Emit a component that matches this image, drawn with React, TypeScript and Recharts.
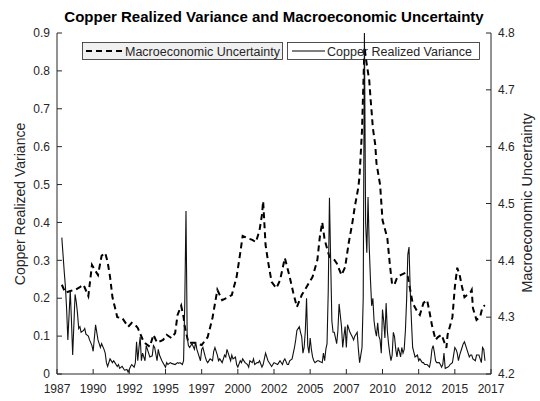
import React from 'react';
import { LineChart, Line, XAxis, YAxis, Customized } from 'recharts';

// months since Jan 1987 on the x axis, labels as printed on the figure
const xTickMonths = [0, 30, 60, 90, 120, 150, 180, 210, 240, 270, 300, 330, 360];
const xTickLabels = ['1987', '1990', '1992', '1995', '1997', '2000', '2002', '2005', '2007', '2010', '2012', '2015', '2017'];
const varianceTicks = [0, 0.1, 0.2, 0.3, 0.4, 0.5, 0.6, 0.7, 0.8, 0.9];
const uncertaintyTicks = [4.2, 4.3, 4.4, 4.5, 4.6, 4.7, 4.8];

// copper realized variance (solid)
const rvMonths = [
  4, 6, 7, 8, 9, 11, 12, 13, 15, 16, 17, 18, 19, 20, 22, 23, 24, 26, 27, 29, 30, 32, 33, 34, 36, 37, 39, 40,
  41, 42, 44, 46, 47, 48, 50, 51, 52, 54, 56, 58, 59, 61, 62, 64, 65, 66, 67, 68, 69, 70, 71, 73, 74, 75, 77,
  79, 80, 81, 83, 84, 85, 87, 90, 91, 92, 94, 95, 98, 100, 101, 102, 104, 105, 106, 107, 108, 109, 110, 112,
  114, 115, 116, 117, 119, 120, 121, 123, 124, 125, 127, 129, 130, 131, 133, 134, 135, 137, 139, 140, 141, 142,
  144, 145, 146, 148, 149, 150, 152, 153, 154, 156, 158, 159, 160, 162, 163, 164, 166, 167, 168, 170, 171, 173,
  174, 175, 177, 178, 180, 183, 184, 185, 187, 188, 189, 191, 192, 193, 195, 197, 198, 199, 201, 202, 203, 204,
  205, 206, 207, 208, 209, 210, 211, 212, 213, 214, 216, 217, 218, 220, 221, 222, 223, 224, 225, 226, 227, 228,
  229, 230, 232, 233, 234, 235, 236, 237, 238, 239, 240, 241, 243, 245, 246, 247, 249, 250, 251, 252, 253, 254,
  255, 256, 257, 258, 259, 260, 261, 262, 263, 264, 265, 266, 267, 268, 269, 270, 271, 272, 273, 274, 275, 276,
  277, 278, 279, 280, 281, 282, 283, 284, 285, 286, 287, 288, 289, 290, 291, 292, 293, 294, 295, 297, 299, 300,
  301, 303, 304, 305, 307, 309, 310, 311, 312, 313, 314, 315, 317, 318, 319, 320, 321, 322, 324, 325, 326, 328,
  329, 330, 331, 332, 333, 334, 336, 337, 338, 340, 342, 343, 344, 345, 347, 348, 350, 351, 352, 353, 354, 355,
];
const rvValues = [
  0.36, 0.27, 0.23, 0.17, 0.09, 0.22, 0.14, 0.05, 0.21, 0.19, 0.16, 0.12, 0.125, 0.11, 0.115, 0.12, 0.105, 0.1, 0.09, 0.075, 0.06, 0.13, 0.11, 0.09, 0.07, 0.08, 0.065, 0.055,
  0.03, 0.02, 0.04, 0.03, 0.035, 0.03, 0.02, 0.025, 0.015, 0.02, 0.01, 0.012, 0.005, 0.02, 0.025, 0.018, 0.03, 0.085, 0.035, 0.07, 0.098, 0.035, 0.055, 0.035, 0.075, 0.065, 0.045,
  0.048, 0.075, 0.07, 0.035, 0.065, 0.05, 0.035, 0.018, 0.03, 0.025, 0.03, 0.028, 0.025, 0.03, 0.028, 0.03, 0.025, 0.035, 0.19, 0.43, 0.098, 0.075, 0.07, 0.08,
  0.065, 0.085, 0.065, 0.055, 0.035, 0.065, 0.07, 0.045, 0.035, 0.03, 0.04, 0.035, 0.06, 0.07, 0.05, 0.035, 0.04, 0.03, 0.05, 0.045, 0.065, 0.055,
  0.035, 0.05, 0.04, 0.045, 0.025, 0.018, 0.035, 0.03, 0.04, 0.03, 0.025, 0.018, 0.035, 0.03, 0.04, 0.025, 0.03, 0.03, 0.035, 0.018, 0.025, 0.055,
  0.045, 0.035, 0.025, 0.02, 0.03, 0.025, 0.03, 0.035, 0.025, 0.035, 0.04, 0.025, 0.025, 0.035, 0.04, 0.07, 0.09, 0.115, 0.125, 0.11, 0.098, 0.055,
  0.07, 0.115, 0.2, 0.075, 0.055, 0.095, 0.065, 0.045, 0.035, 0.03, 0.035, 0.035, 0.033, 0.03, 0.055, 0.035, 0.065, 0.08, 0.22, 0.465, 0.3, 0.14,
  0.11, 0.11, 0.08, 0.115, 0.185, 0.155, 0.125, 0.07, 0.1, 0.125, 0.07, 0.13, 0.11, 0.098, 0.09, 0.1, 0.11, 0.065, 0.03, 0.05, 0.07, 0.2,
  0.9, 0.4, 0.32, 0.467, 0.335, 0.25, 0.18, 0.2, 0.14, 0.115, 0.1, 0.135, 0.1, 0.09, 0.055, 0.17, 0.14, 0.095, 0.187, 0.115, 0.08, 0.055,
  0.035, 0.05, 0.11, 0.098, 0.065, 0.045, 0.07, 0.06, 0.045, 0.07, 0.055, 0.065, 0.115, 0.195, 0.315, 0.335, 0.22, 0.14, 0.07, 0.045, 0.05, 0.035,
  0.04, 0.03, 0.03, 0.025, 0.025, 0.018, 0.035, 0.065, 0.075, 0.058, 0.035, 0.03, 0.03, 0.025, 0.018, 0.025, 0.055, 0.015, 0.018, 0.02, 0.025, 0.03,
  0.05, 0.07, 0.065, 0.055, 0.035, 0.05, 0.07, 0.08, 0.085, 0.065, 0.045, 0.05, 0.05, 0.04, 0.035, 0.05, 0.05, 0.04, 0.03, 0.07, 0.065, 0.035,
];

// macroeconomic uncertainty (dashed)
const muMonths = [
  4, 7, 11, 15, 19, 22, 26, 29, 32, 34, 37, 40, 42, 44, 46, 50, 54, 59, 62, 65, 67, 72, 77, 80, 83, 88, 91, 95,
  98, 100, 103, 105, 106, 109, 114, 120, 125, 129, 133, 137, 141, 145, 149, 152, 154, 158, 162, 165, 168, 170,
  171, 173, 175, 178, 182, 185, 189, 193, 196, 199, 203, 207, 212, 216, 218, 220, 222, 226, 230, 232, 236, 239,
  242, 245, 247, 250, 251, 253, 254, 255, 257, 259, 260, 261, 262, 264, 265, 268, 270, 274, 276, 278, 280, 282,
  285, 289, 291, 293, 295, 299, 301, 304, 307, 309, 311, 314, 316, 319, 323, 324, 328, 330, 332, 334, 336, 338,
  343, 344, 345, 348, 351, 353, 355,
];
const muValues = [
  4.357, 4.343, 4.346, 4.348, 4.353, 4.357, 4.337, 4.392, 4.381, 4.374, 4.408, 4.413, 4.397, 4.371, 4.335, 4.3, 4.299, 4.283, 4.29, 4.286, 4.281, 4.256, 4.248, 4.269, 4.255, 4.26, 4.269, 4.263,
  4.272, 4.304, 4.32, 4.3, 4.283, 4.255, 4.255, 4.251, 4.265, 4.299, 4.348, 4.33, 4.334, 4.339, 4.371, 4.413, 4.443, 4.439, 4.436, 4.432, 4.453, 4.48,
  4.504, 4.427, 4.399, 4.362, 4.351, 4.365, 4.404, 4.371, 4.343, 4.318, 4.339, 4.353, 4.371, 4.401, 4.441, 4.467, 4.436, 4.406, 4.401, 4.395, 4.374, 4.388,
  4.431, 4.466, 4.494, 4.529, 4.55, 4.629, 4.7, 4.775, 4.744, 4.717, 4.687, 4.661, 4.633, 4.603, 4.571, 4.533, 4.471, 4.439, 4.395, 4.357, 4.358, 4.369,
  4.374, 4.378, 4.371, 4.348, 4.325, 4.309, 4.304, 4.325, 4.33, 4.309, 4.286, 4.26, 4.265, 4.269, 4.246, 4.269, 4.3, 4.353, 4.387, 4.374, 4.353, 4.335,
  4.344, 4.348, 4.316, 4.295, 4.301, 4.318, 4.321,
];

const rvData = rvMonths.map((m, i) => ({ month: m, rv: rvValues[i] }));
const muData = muMonths.map((m, i) => ({ month: m, mu: muValues[i] }));

const AXIS = '#262626';
const FONT = '"Liberation Sans", Arial, Helvetica, sans-serif';

// title, axis titles and the two legend boxes
const Annotations = () => (
  <g fontFamily={FONT}>
    <text x={274} y={22} textAnchor="middle" fontSize={15} fontWeight="bold" fill="#000">
      Copper Realized Variance and Macroeconomic Uncertainty
    </text>
    <text transform="translate(25,204) rotate(-90)" textAnchor="middle" fontSize={14} fill={AXIS}>
      Copper Realized Variance
    </text>
    <text transform="translate(532,203) rotate(-90)" textAnchor="middle" fontSize={14.5} fill={AXIS}>
      Macroeconomic Uncertainty
    </text>
    <rect x={82.5} y={42.5} width={200} height={17} fill="#f0f0f0" stroke={AXIS} strokeWidth={0.8} />
    <line x1={86} x2={123} y1={51} y2={51} stroke="#000" strokeWidth={2} strokeDasharray="6 4" />
    <text x={125} y={55.5} fontSize={12.5} fill={AXIS}>Macroeconomic Uncertainty</text>
    <rect x={287.5} y={42.5} width={192} height={17} fill="#fff" stroke={AXIS} strokeWidth={0.8} />
    <line x1={292} x2={325} y1={51} y2={51} stroke="#000" strokeWidth={1} />
    <text x={327} y={55.5} fontSize={12.5} fill={AXIS}>Copper Realized Variance</text>
  </g>
);

export default function App() {
  const tickStyle = { fill: AXIS, fontSize: 12, fontFamily: FONT };
  return (
    <div style={{ position: 'absolute', left: 0, top: 0, background: '#fff', fontFamily: FONT }}>
      <LineChart width={540} height={401} margin={{ top: 33, right: 9, bottom: 7, left: 12 }}>
        <Customized component={Annotations} />
        <XAxis
          xAxisId="bottom"
          type="number"
          dataKey="month"
          domain={[0, 360]}
          ticks={xTickMonths}
          tickFormatter={(v: number) => xTickLabels[xTickMonths.indexOf(v)]}
          allowDataOverflow
          height={20}
          tickSize={-5}
          tickMargin={15}
          stroke={AXIS}
          tick={tickStyle}
        />
        <XAxis
          xAxisId="top"
          orientation="top"
          type="number"
          dataKey="month"
          domain={[0, 360]}
          ticks={xTickMonths}
          allowDataOverflow
          height={0}
          tickSize={-5}
          tick={false}
          stroke={AXIS}
        />
        <YAxis
          yAxisId="left"
          domain={[0, 0.9]}
          ticks={varianceTicks}
          allowDataOverflow
          width={45}
          tickSize={-5}
          tickMargin={12}
          stroke={AXIS}
          tick={tickStyle}
        />
        <YAxis
          yAxisId="leftMirror"
          orientation="right"
          domain={[0, 0.9]}
          ticks={varianceTicks}
          allowDataOverflow
          width={0}
          tickSize={-5}
          tick={false}
          axisLine={false}
          stroke={AXIS}
        />
        <YAxis
          yAxisId="right"
          orientation="right"
          domain={[4.2, 4.8]}
          ticks={uncertaintyTicks}
          allowDataOverflow
          width={40}
          tickSize={-5}
          tickMargin={12}
          stroke={AXIS}
          tick={tickStyle}
        />
        <Line
          data={muData}
          dataKey="mu"
          xAxisId="bottom"
          yAxisId="right"
          type="linear"
          stroke="#000"
          strokeWidth={2}
          strokeDasharray="6 4"
          dot={false}
          isAnimationActive={false}
        />
        <Line
          data={rvData}
          dataKey="rv"
          xAxisId="bottom"
          yAxisId="left"
          type="linear"
          stroke="#111"
          strokeWidth={1.1}
          dot={false}
          isAnimationActive={false}
        />
      </LineChart>
    </div>
  );
}
